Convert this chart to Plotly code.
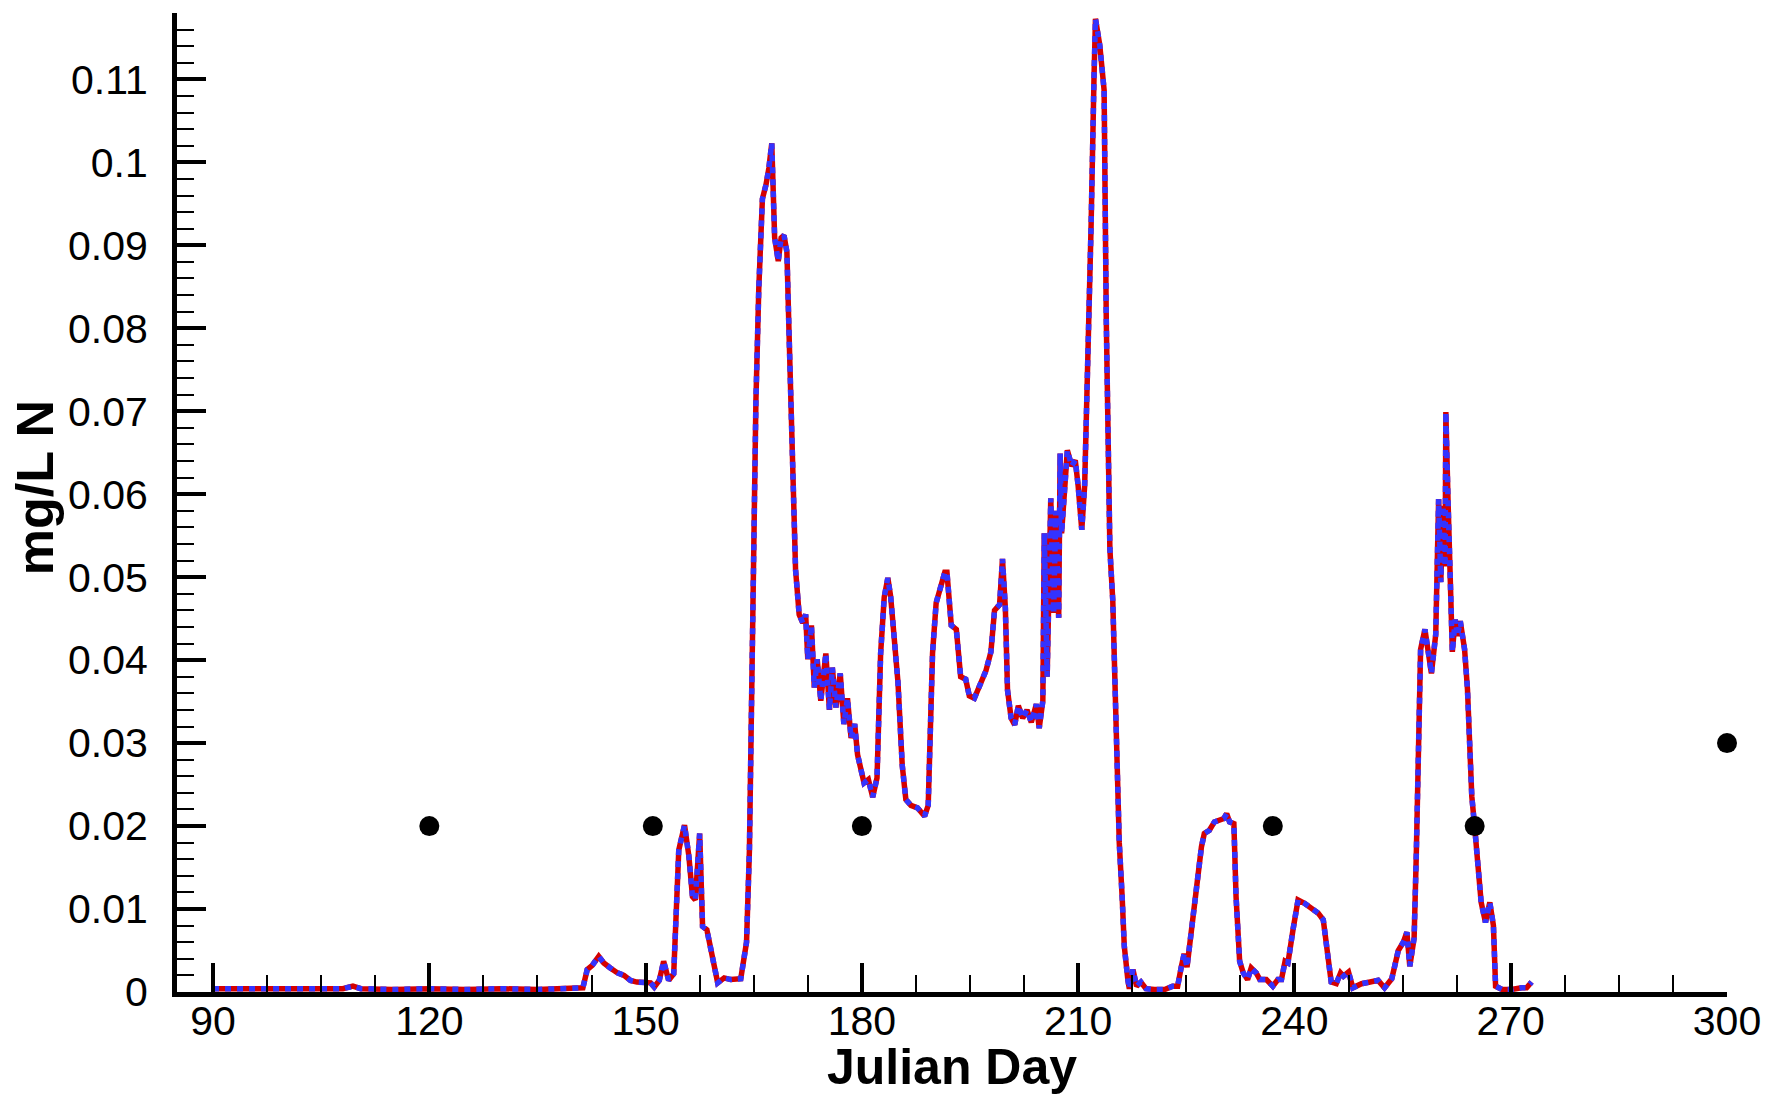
import plotly.graph_objects as go

# ---- data ----
days = [90, 95, 100, 105, 108, 109.4, 110.5, 115, 120, 125, 130, 135, 140, 141.3,
        141.9, 142.6, 143.5, 144.2, 145.1, 146.1, 147.0, 147.9, 148.8, 149.8, 150.7,
        151.2, 151.9, 152.5, 153.2, 153.9, 154.6, 155.4, 156.0, 156.5, 156.9, 157.5,
        157.9, 158.5, 160.0, 160.9, 161.8, 163.2, 164.0, 164.4, 164.8, 165.3, 165.7,
        166.2, 166.7, 167.1, 167.5, 167.7, 167.9, 168.4, 168.8, 169.2, 169.6, 169.9,
        170.2, 170.5, 170.8, 171.3, 171.8, 172.2, 172.5, 173.0, 173.4, 173.8, 174.3,
        175.0, 175.5, 175.9, 176.4, 177.0, 177.5, 178.0, 178.5, 179.0, 179.4, 180.3,
        180.9, 181.5, 182.1, 182.6, 183.1, 183.6, 184.0, 185.0, 185.6, 186.1, 186.8,
        187.7, 188.7, 189.2, 189.8, 190.3, 191.0, 191.5, 191.8, 192.4, 193.1, 193.7,
        194.4, 194.9, 195.6, 196.3, 197.2, 197.9, 198.4, 199.1, 199.5, 199.9, 200.2,
        200.7, 201.2, 201.7, 202.3, 202.9, 203.5, 204.2, 204.6, 205.1, 205.3, 205.7,
        206.0, 206.2, 206.6, 206.9, 207.3, 207.5, 207.7, 208.1, 208.5, 209.1, 209.6,
        210.0, 210.5, 210.9, 211.3, 211.8, 212.2, 212.4, 213.0, 213.6, 213.9, 214.4,
        214.8, 215.3, 215.7, 216.1, 216.4, 216.9, 217.1, 217.6, 218.1, 218.7, 219.4,
        220.6, 222.0, 223.1, 223.8, 224.3, 224.7, 225.1, 225.5, 225.9, 226.4, 227.1,
        227.5, 228.2, 228.9, 229.6, 230.2, 230.6, 231.0, 231.6, 231.9, 232.4, 232.9,
        233.5, 234.0, 234.7, 235.2, 236.1, 237.0, 237.7, 238.2, 238.7, 239.1, 239.8,
        240.5, 241.4, 242.4, 243.3, 244.0, 244.7, 245.1, 245.8, 246.4, 246.8, 247.5,
        248.1, 249.3, 250.5, 251.6, 252.5, 253.5, 253.9, 254.4, 255.1, 255.6, 256.0,
        256.6, 256.9, 257.3, 257.5, 258.1, 258.6, 259.0, 259.6, 259.9, 260.0, 260.3,
        260.6, 260.9, 261.0, 261.3, 261.6, 261.9, 262.3, 262.6, 263.0, 263.6, 264.0,
        264.4, 264.6, 265.0, 265.5, 265.9, 266.5, 267.1, 267.6, 267.9, 268.8, 270.1,
        271.5, 272.2, 272.9]

model_conc = [0.0004, 0.0004, 0.0004, 0.0004, 0.0004, 0.0007, 0.0004, 0.0003, 0.0004,
              0.0003, 0.0004, 0.0003, 0.0004, 0.0005,
              0.0027, 0.0032, 0.0043, 0.0035, 0.0029, 0.0023, 0.0020, 0.0014, 0.0012,
              0.0012, 0.0011, 0.0006, 0.0014, 0.0037, 0.0014, 0.0022, 0.0171, 0.0201,
              0.0164, 0.0115, 0.0111, 0.0191, 0.0079, 0.0075, 0.0011, 0.0017, 0.0015,
              0.0016, 0.0060, 0.0171, 0.0442, 0.0712, 0.0848, 0.0956, 0.0973, 0.0993,
              0.1023, 0.0969, 0.0909, 0.0881, 0.0909, 0.0912, 0.0892, 0.0793, 0.0679,
              0.0577, 0.0509, 0.0455, 0.0445, 0.0455, 0.0401, 0.0442, 0.0367, 0.0401,
              0.0351, 0.0408, 0.0340, 0.0391, 0.0343, 0.0384, 0.0323, 0.0354, 0.0306,
              0.0323, 0.0286, 0.0252, 0.0256, 0.0235, 0.0258, 0.0408, 0.0476, 0.0499,
              0.0476, 0.0374, 0.0273, 0.0232, 0.0225, 0.0222, 0.0212, 0.0225, 0.0408,
              0.0469, 0.0489, 0.0506, 0.0506, 0.0442, 0.0437, 0.0380, 0.0377, 0.0357,
              0.0354, 0.0367, 0.0387, 0.0410, 0.0460, 0.0467, 0.0522, 0.0463, 0.0364,
              0.0330, 0.0322, 0.0345, 0.0330, 0.0340, 0.0325, 0.0347, 0.0318, 0.0351,
              0.0553, 0.0380, 0.0503, 0.0595, 0.0457, 0.0580, 0.0451, 0.0649, 0.0553,
              0.0610, 0.0653, 0.0634, 0.0641, 0.0610, 0.0557, 0.0610, 0.0733, 0.0926,
              0.1103, 0.1173, 0.1141, 0.1087, 0.0810, 0.0534, 0.0472, 0.0310, 0.0180,
              0.0115, 0.0055, 0.0014, 0.0004, 0.0027, 0.0007, 0.0012, 0.0004, 0.0003,
              0.0003, 0.0007, 0.0007, 0.0030, 0.0046, 0.0030, 0.0059, 0.0087, 0.0135,
              0.0175, 0.0191, 0.0195, 0.0205, 0.0207, 0.0209, 0.0215, 0.0205, 0.0203,
              0.0115, 0.0037, 0.0023, 0.0015, 0.0029, 0.0023, 0.0015, 0.0015, 0.0007,
              0.0015, 0.0015, 0.0037, 0.0035, 0.0075, 0.0111, 0.0107, 0.0101, 0.0095,
              0.0087, 0.0030, 0.0012, 0.0010, 0.0023, 0.0019, 0.0024, 0.0005, 0.0010,
              0.0012, 0.0014, 0.0005, 0.0016, 0.0031, 0.0050, 0.0060, 0.0072, 0.0031,
              0.0065, 0.0165, 0.0356, 0.0413, 0.0437, 0.0410, 0.0384, 0.0431, 0.0547,
              0.0594, 0.0494, 0.0586, 0.0513, 0.0699, 0.0594, 0.0495, 0.0410, 0.0449,
              0.0429, 0.0447, 0.0413, 0.0365, 0.0284, 0.0236, 0.0199, 0.0141, 0.0108,
              0.0084, 0.0108, 0.0080, 0.0007, 0.0003, 0.0003, 0.0005, 0.0005, 0.0012]

obs_days = [120, 151, 180, 237, 265, 300]
obs_conc = [0.02, 0.02, 0.02, 0.02, 0.02, 0.03]

x_tickvals = [90, 120, 150, 180, 210, 240, 270, 300]
y_tickvals = [0, 0.01, 0.02, 0.03, 0.04, 0.05, 0.06, 0.07, 0.08, 0.09, 0.1, 0.11]
y_ticktext = ["0", "0.01", "0.02", "0.03", "0.04", "0.05", "0.06", "0.07", "0.08",
              "0.09", "0.1", "0.11"]

FONT = "Liberation Sans, Arial, sans-serif"

fig = go.Figure()
fig.add_trace(go.Scatter(x=days, y=model_conc, mode="lines",
                         line=dict(color="#d40000", width=5.5), showlegend=False))
fig.add_trace(go.Scatter(x=days, y=model_conc, mode="lines",
                         line=dict(color="#3333ff", width=5.5, dash="6px,6px"),
                         showlegend=False))
fig.add_trace(go.Scatter(x=obs_days, y=obs_conc, mode="markers",
                         marker=dict(color="black", size=20), cliponaxis=False,
                         showlegend=False))

fig.update_layout(
    width=1767, height=1095,
    margin=dict(l=177, r=40, t=13, b=103, pad=0),
    plot_bgcolor="white", paper_bgcolor="white",
    font=dict(family=FONT, color="black", size=41),
)
fig.update_xaxes(
    range=[85, 300], tickmode="array", tickvals=x_tickvals,
    ticks="inside", ticklen=29, tickwidth=4, tickcolor="black",
    showline=True, linewidth=5, linecolor="black", showgrid=False, zeroline=False,
    minor=dict(tickmode="linear", tick0=90, dtick=7.5, ticks="inside", ticklen=17,
               tickwidth=1.5, tickcolor="black", showgrid=False),
    tickfont=dict(size=41), ticklabelstandoff=-11,
    title=dict(text="<b>Julian Day</b>", font=dict(size=50), standoff=28),
    automargin=False,
)
fig.update_yaxes(
    range=[0, 0.118], tickmode="array", tickvals=y_tickvals, ticktext=y_ticktext,
    ticks="inside", ticklen=29, tickwidth=4, tickcolor="black",
    showline=True, linewidth=5, linecolor="black", showgrid=False, zeroline=False,
    minor=dict(tickmode="linear", tick0=0, dtick=0.002, ticks="inside", ticklen=17,
               tickwidth=1.5, tickcolor="black", showgrid=False),
    tickfont=dict(size=41), ticklabelstandoff=16,
    automargin=False,
)
fig.add_annotation(text="<b>mg/L N</b>", xref="paper", yref="paper",
                   x=-0.092, y=0.515, xanchor="center", yanchor="middle",
                   textangle=-90, showarrow=False, font=dict(size=52))

fig.write_html("out.html", config={"displayModeBar": False},
               post_script="document.body.style.margin='0';")
